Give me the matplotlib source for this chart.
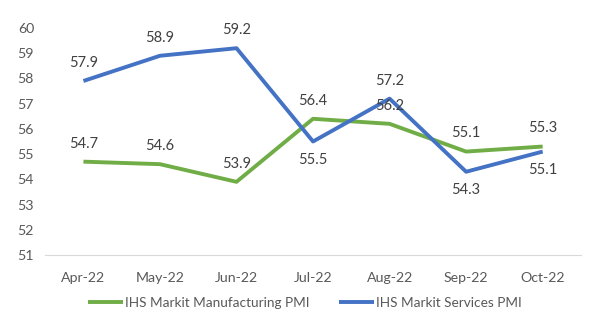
import matplotlib.pyplot as plt

months = ['Apr-22', 'May-22', 'Jun-22', 'Jul-22', 'Aug-22', 'Sep-22', 'Oct-22']
manufacturing = [54.7, 54.6, 53.9, 56.4, 56.2, 55.1, 55.3]
services = [57.9, 58.9, 59.2, 55.5, 57.2, 54.3, 55.1]
# label above (+1) or below (-1) each point
manu_pos = [1, 1, 1, 1, 1, 1, 1]
serv_pos = [1, 1, 1, -1, 1, -1, -1]
yticks = list(range(51, 61))

plt.rcParams['font.family'] = ['Lato', 'DejaVu Sans']

fig = plt.figure(figsize=(6.02, 3.26), dpi=100)
ax = fig.add_axes([0.075, 0.218, 0.89, 0.696])

green = '#70AD47'
blue = '#4472C4'
x = range(len(months))

ax.plot(x, manufacturing, color=green, lw=2.8, solid_capstyle='butt',
        label='IHS Markit Manufacturing PMI')
ax.plot(x, services, color=blue, lw=2.8, solid_capstyle='butt',
        label='IHS Markit Services PMI')

for xi, v, p in zip(x, manufacturing, manu_pos):
    ax.annotate(f'{v}', (xi, v), xytext=(0, 8 * p), textcoords='offset points',
                ha='center', va='bottom' if p > 0 else 'top', fontsize=10.5, color='#404040')
for xi, v, p in zip(x, services, serv_pos):
    ax.annotate(f'{v}', (xi, v), xytext=(0, 8 * p), textcoords='offset points',
                ha='center', va='bottom' if p > 0 else 'top', fontsize=10.5, color='#404040')

ax.set_xlim(-0.5, len(months) - 0.5)
ax.set_ylim(51, 60)
ax.set_yticks(yticks)
ax.set_xticks(list(x))
ax.set_xticklabels(months)
ax.tick_params(length=0, labelsize=10.2, labelcolor='#595959')
ax.tick_params(axis='x', pad=12)
ax.tick_params(axis='y', pad=8)

for s in ['top', 'right', 'left']:
    ax.spines[s].set_visible(False)
ax.spines['bottom'].set_color('#D9D9D9')

fig.legend(*ax.get_legend_handles_labels(), loc='center',
           bbox_to_anchor=(0.506, 0.07), ncol=2, frameon=False,
           fontsize=9.8, handlelength=2.6, columnspacing=2.2, handletextpad=0.1,
           labelcolor='#595959')

fig.savefig('out.png', dpi=100)
